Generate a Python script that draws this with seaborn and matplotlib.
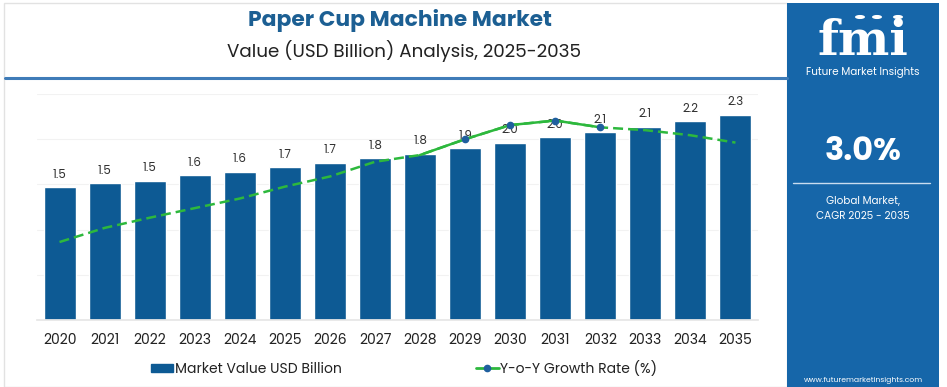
import numpy as np
import pandas as pd
import matplotlib
matplotlib.use("Agg")
import matplotlib.pyplot as plt
import seaborn as sns
from matplotlib.patches import Patch, Rectangle, Circle
from matplotlib.lines import Line2D

years = ["2020", "2021", "2022", "2023", "2024", "2025", "2026", "2027",
         "2028", "2029", "2030", "2031", "2032", "2033", "2034", "2035"]
market_value = [1.47, 1.51, 1.54, 1.60, 1.64, 1.69, 1.74, 1.79,
                1.84, 1.90, 1.96, 2.02, 2.08, 2.14, 2.20, 2.27]
growth_rate = [1.38, 1.63, 1.81, 1.98, 2.15, 2.36, 2.54, 2.80,
               2.92, 3.20, 3.45, 3.53, 3.41, 3.36, 3.27, 3.14]
cagr_text = "3.0%"

bar_color = "#0d5a94"
line_color = "#2db83d"
dot_color = "#1f5f9e"
panel_color = "#1666a9"

df = pd.DataFrame({"year": years, "value": market_value,
                   "growth": growth_rate, "pos": np.arange(len(years))})

sns.set_theme(style="white")
plt.rcParams["font.family"] = ["Poppins", "Lato", "DejaVu Sans"]

W, H = 947, 387
fig = plt.figure(figsize=(W / 100, H / 100), dpi=100)
fig.patch.set_facecolor("white")

# outer frame + header line
fig.add_artist(Rectangle((4 / W, 0), 783 / W, 384 / H, transform=fig.transFigure,
                         fill=False, edgecolor="#e2e2e2", lw=1))
fig.add_artist(Line2D([5 / W, 787 / W], [1 - 78 / H, 1 - 78 / H],
                      transform=fig.transFigure, color="#3f7cb8", lw=2.2))

fig.text(400 / W, 1 - 20 / H, "Paper Cup Machine Market", ha="center", va="center",
         fontsize=15.7, fontweight="bold", color="#1c5f93")
fig.text(404 / W, 1 - 51 / H, "Value (USD Billion) Analysis, 2025-2035", ha="center",
         va="center", fontsize=13.2, color="#222222")

ax = fig.add_axes([37 / W, 1 - 320 / H, 721 / W, 226 / H])
sns.barplot(data=df, x="year", y="value", color=bar_color, width=0.71,
            saturation=1, ax=ax)
ax.set_ylim(0, 2.5)
ax.set_xlim(-0.5, 15.5)
ax.set_yticks([0.5, 1.0, 1.5, 2.0, 2.5])
ax.yaxis.grid(True, color="#f2f2f2", lw=0.8)
ax.set_axisbelow(True)
ax.set_yticklabels([])
ax.tick_params(axis="y", length=0)
ax.set_xlabel("")
ax.set_ylabel("")
for s in ["top", "right", "left"]:
    ax.spines[s].set_visible(False)
ax.spines["bottom"].set_color("#e6e6e6")
ax.tick_params(axis="x", labelsize=10, colors="#222222", length=0, pad=9)
ax.set_xticks(np.arange(-0.5, 16, 1), minor=True)
ax.tick_params(axis="x", which="minor", length=5, color="#ececec", width=0.8)

for i, v in enumerate(market_value):
    ax.text(i, v + 0.07, f"{v:.1f}", ha="center", va="bottom", fontsize=8.5,
            color="#333333")

ax2 = ax.twinx()
sns.lineplot(data=df, x="pos", y="growth", ax=ax2, color=line_color, lw=1.8,
             linestyle=(0, (4, 2)))
solid = df.iloc[8:13]
sns.lineplot(data=solid, x="pos", y="growth", ax=ax2, color=line_color, lw=1.8)
dots = df.iloc[9:13]
ax2.plot(dots["pos"], dots["growth"], "o", color=dot_color, ms=4.5, zorder=5)
ax2.set_ylim(0, 4)
ax2.set_xlim(-0.5, 15.5)
ax2.axis("off")

handles = [Patch(facecolor=bar_color, edgecolor=bar_color),
           Line2D([0], [0], color=line_color, lw=2, linestyle="-", marker="o",
                  ms=4.5, markerfacecolor=dot_color, markeredgecolor=dot_color)]
fig.legend(handles, ["Market Value USD Billion", "Y-o-Y Growth Rate (%)"],
           loc="center", bbox_to_anchor=(404 / W, 1 - 369 / H), ncol=2,
           frameon=False, fontsize=10, handlelength=1.6, handleheight=0.55,
           handletextpad=0.1, columnspacing=9.7, labelcolor="#222222")

# right panel
fig.add_artist(Rectangle((787 / W, 0), 152 / W, 384 / H, transform=fig.transFigure,
                         facecolor=panel_color, edgecolor="none"))
cx = 863 / W
fig.text(cx, 1 - 55 / H, "fmi", ha="center", va="baseline", fontsize=35,
         fontweight="bold", color="white", family="DejaVu Serif")
for yy in range(27, 56, 4):
    fig.add_artist(Line2D([805 / W, 920 / W], [1 - yy / H, 1 - yy / H],
                          transform=fig.transFigure, color=panel_color, lw=0.9))
for xx in [860, 877, 898]:
    fig.add_artist(Circle((xx / W, 1 - 17 / H), 5 / W, transform=fig.transFigure,
                          facecolor="white", edgecolor="none"))
fig.text(cx, 1 - 72 / H, "Future Market Insights", ha="center", va="center",
         fontsize=7.5, color="white")
fig.text(cx, 1 - 152 / H, cagr_text, ha="center", va="center", fontsize=23,
         fontweight="bold", color="white")
fig.add_artist(Line2D([793 / W, 930 / W], [1 - 183 / H, 1 - 183 / H],
                      transform=fig.transFigure, color="#c9dcef", lw=1))
fig.text(cx, 1 - 209 / H, "Global Market,\nCAGR 2025 - 2035", ha="center",
         va="center", fontsize=7.5, color="white", linespacing=1.6)
fig.text(cx, 1 - 380 / H, "www.futuremarketinsights.com", ha="center",
         va="center", fontsize=5.5, color="white")

fig.savefig("out.png", dpi=100)
